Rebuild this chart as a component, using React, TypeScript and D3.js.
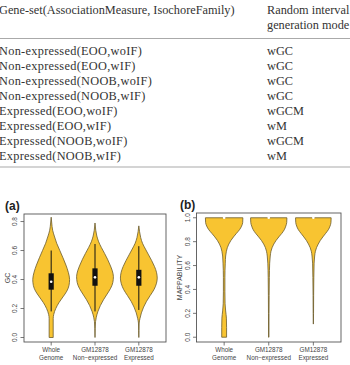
import React from "react";
import * as d3 from "d3";

// ---------- table data ----------
const tableHeaderLeft = "Gene-set(AssociationMeasure, IsochoreFamily)";
const tableHeaderRight = ["Random interval", "generation mode"];
const geneSets = [
  "Non-expressed(EOO,woIF)",
  "Non-expressed(EOO,wIF)",
  "Non-expressed(NOOB,woIF)",
  "Non-expressed(NOOB,wIF)",
  "Expressed(EOO,woIF)",
  "Expressed(EOO,wIF)",
  "Expressed(NOOB,woIF)",
  "Expressed(NOOB,wIF)",
];
const generationModes = ["wGC", "wGC", "wGC", "wGC", "wGCM", "wM", "wGCM", "wM"];

// ---------- chart data ----------
const xLabelTop = ["Whole", "GM12878", "GM12878"];
const xLabelBottom = ["Genome", "Non\u2212expressed", "Expressed"];
const gcTicks = [0, 0.2, 0.4, 0.6, 0.8];
const mapTicks = [0, 0.2, 0.4, 0.6, 0.8, 1.0];

// violin profiles: [value, relative density]
const gcWhole: [number, number][] = [
  [0.83, 0], [0.79, 0.03], [0.74, 0.08], [0.70, 0.17], [0.65, 0.30], [0.60, 0.47],
  [0.55, 0.64], [0.50, 0.80], [0.45, 0.93], [0.40, 1.0], [0.36, 0.97], [0.32, 0.85],
  [0.28, 0.64], [0.24, 0.42], [0.20, 0.25], [0.16, 0.14], [0.13, 0.11], [0.10, 0.11], [0.0, 0.11],
];
const gcNonExpressed: [number, number][] = [
  [0.79, 0], [0.74, 0.04], [0.70, 0.10], [0.66, 0.20], [0.62, 0.35], [0.58, 0.52],
  [0.54, 0.68], [0.50, 0.82], [0.46, 0.94], [0.42, 1.0], [0.38, 0.97], [0.34, 0.85],
  [0.30, 0.66], [0.26, 0.46], [0.22, 0.29], [0.18, 0.16], [0.14, 0.07], [0.11, 0.03],
  [0.06, 0.01], [0.0, 0],
];
const gcExpressed: [number, number][] = [
  [0.77, 0], [0.73, 0.04], [0.69, 0.10], [0.65, 0.20], [0.61, 0.36], [0.57, 0.53],
  [0.53, 0.70], [0.49, 0.85], [0.45, 0.96], [0.41, 1.0], [0.37, 0.95], [0.33, 0.82],
  [0.29, 0.62], [0.25, 0.42], [0.21, 0.26], [0.17, 0.14], [0.13, 0.06], [0.10, 0.02],
  [0.05, 0.01], [0.0, 0],
];
const gcLower = [0.18, 0.18, 0.19];
const gcQ1 = [0.33, 0.357, 0.357];
const gcMedian = [0.385, 0.415, 0.415];
const gcQ3 = [0.443, 0.477, 0.467];
const gcUpper = [0.6, 0.645, 0.63];

const mapWhole: [number, number][] = [
  [1.0, 1.0], [0.96, 0.99], [0.93, 0.93], [0.90, 0.82], [0.87, 0.66], [0.84, 0.50],
  [0.81, 0.36], [0.78, 0.25], [0.75, 0.17], [0.72, 0.12], [0.68, 0.08], [0.62, 0.06],
  [0.50, 0.04], [0.38, 0.04], [0.28, 0.05], [0.22, 0.08], [0.16, 0.12], [0.08, 0.13], [0.0, 0.13],
];
const mapNonExpressed: [number, number][] = [
  [1.0, 0.97], [0.96, 0.96], [0.93, 0.91], [0.90, 0.83], [0.87, 0.70], [0.84, 0.54],
  [0.81, 0.39], [0.78, 0.27], [0.75, 0.18], [0.72, 0.12], [0.68, 0.08], [0.62, 0.05],
  [0.50, 0.03], [0.35, 0.02], [0.20, 0.015], [0.0, 0.01],
];
const mapExpressed: [number, number][] = [
  [1.0, 0.95], [0.96, 0.94], [0.93, 0.89], [0.90, 0.80], [0.87, 0.66], [0.84, 0.51],
  [0.81, 0.37], [0.78, 0.26], [0.75, 0.17], [0.72, 0.11], [0.68, 0.07], [0.62, 0.04],
  [0.50, 0.025], [0.35, 0.015], [0.20, 0.01], [0.11, 0],
];
const mapMedian = [1.0, 1.0, 1.0];

const FILL = "#F8C431";
const EDGE = "#6a5a2c";
const HALF_WIDTH = 0.42;

type PanelProps = {
  left: number; right: number; top: number; bottom: number;
  yDomain: [number, number];
  ticks: number[];
  profiles: [number, number][][];
  q1?: number[]; med: number[]; q3?: number[]; lower?: number[]; upper?: number[];
  yLabel: string; title: string;
  yLabelX: number; tickLabelX: number; titleX: number;
};

function Panel(p: PanelProps) {
  const x = d3.scaleLinear().domain([0.38, 3.62]).range([p.left, p.right]);
  const y = d3.scaleLinear().domain(p.yDomain).range([p.bottom, p.top]);
  const fmt = d3.format(".1f");
  return (
    <g>
      {p.profiles.map((prof, i) => {
        const c = i + 1;
        const area = d3
          .area<[number, number]>()
          .y((d) => y(d[0]))
          .x0((d) => x(c - d[1] * HALF_WIDTH))
          .x1((d) => x(c + d[1] * HALF_WIDTH))
          .curve(d3.curveMonotoneY);
        return <path key={"v" + i} d={area(prof) || ""} fill={FILL} stroke={EDGE} strokeWidth={0.8} />;
      })}
      {p.med.map((m, i) => {
        const cx = x(i + 1);
        return (
          <g key={"b" + i}>
            {p.lower && p.upper && (
              <line x1={cx} x2={cx} y1={y(p.lower[i])} y2={y(p.upper[i])} stroke="#111" strokeWidth={1} />
            )}
            {p.q1 && p.q3 && (
              <rect x={cx - 2.6} width={5.2} y={y(p.q3[i])} height={y(p.q1[i]) - y(p.q3[i])} fill="#111" />
            )}
            <circle cx={cx} cy={y(m)} r={1.3} fill="#fff" />
          </g>
        );
      })}
      <rect x={p.left} y={p.top} width={p.right - p.left} height={p.bottom - p.top} fill="none" stroke="#555" strokeWidth={0.9} />
      {p.ticks.map((t) => (
        <g key={"t" + t}>
          <line x1={p.left - 3.5} x2={p.left} y1={y(t)} y2={y(t)} stroke="#555" strokeWidth={0.8} />
          <text
            transform={`translate(${p.tickLabelX},${y(t)}) rotate(-90)`}
            textAnchor="middle"
            fontSize={6.5}
            fill="#444"
            fontFamily="Liberation Sans, Arial, sans-serif"
          >
            {fmt(t)}
          </text>
        </g>
      ))}
      {xLabelTop.map((lab, i) => (
        <g key={"x" + i}>
          <line x1={x(i + 1)} x2={x(i + 1)} y1={p.bottom} y2={p.bottom + 3.5} stroke="#555" strokeWidth={0.8} />
          <text x={x(i + 1)} y={p.bottom + 9.5} textAnchor="middle" fontSize={6.3} fill="#444" fontFamily="Liberation Sans, Arial, sans-serif">
            {lab}
          </text>
          <text x={x(i + 1)} y={p.bottom + 17.5} textAnchor="middle" fontSize={6.3} fill="#444" fontFamily="Liberation Sans, Arial, sans-serif">
            {xLabelBottom[i]}
          </text>
        </g>
      ))}
      <text
        transform={`translate(${p.yLabelX},${(p.top + p.bottom) / 2}) rotate(-90)`}
        textAnchor="middle"
        fontSize={7}
        fill="#444"
        fontFamily="Liberation Sans, Arial, sans-serif"
      >
        {p.yLabel}
      </text>
      <text x={p.titleX} y={p.top - 4.5} fontSize={12} fontWeight="bold" fill="#222" fontFamily="Liberation Sans, Arial, sans-serif">
        {p.title}
      </text>
    </g>
  );
}

export default function App() {
  const serif = "Liberation Serif, 'DejaVu Serif', serif";
  const rowY = d3.scaleLinear().domain([0, 1]).range([55, 70]);
  return (
    <svg width={350} height={365} style={{ position: "absolute", left: 0, top: 0, background: "#fff" }}>
      <rect width={350} height={365} fill="#fff" />
      <text x={-1} y={14} fontSize={12.3} fill="#333" fontFamily={serif}>{tableHeaderLeft}</text>
      <text x={267} y={14} fontSize={12.3} fill="#333" fontFamily={serif}>{tableHeaderRight[0]}</text>
      <text x={267} y={28.5} fontSize={12.3} fill="#333" fontFamily={serif}>{tableHeaderRight[1]}</text>
      <line x1={0} x2={350} y1={38.5} y2={38.5} stroke="#aaa" strokeWidth={1.2} />
      {geneSets.map((g, i) => (
        <g key={g}>
          <text x={-1} y={rowY(i)} fontSize={12.3} letterSpacing={0.3} fill="#333" fontFamily={serif}>{g}</text>
          <text x={267} y={rowY(i)} fontSize={12.3} fill="#333" fontFamily={serif}>{generationModes[i]}</text>
        </g>
      ))}
      <line x1={0} x2={350} y1={167} y2={167} stroke="#aaa" strokeWidth={1.2} />
      <Panel
        left={24} right={166} top={214} bottom={342}
        yDomain={[-0.031, 0.852]}
        ticks={gcTicks}
        profiles={[gcWhole, gcNonExpressed, gcExpressed]}
        q1={gcQ1} med={gcMedian} q3={gcQ3} lower={gcLower} upper={gcUpper}
        yLabel="GC" title="(a)"
        yLabelX={9.5} tickLabelX={17} titleX={5}
      />
      <Panel
        left={196.5} right={341} top={213} bottom={342}
        yDomain={[-0.04, 1.04]}
        ticks={mapTicks}
        profiles={[mapWhole, mapNonExpressed, mapExpressed]}
        med={mapMedian}
        yLabel="MAPPABILITY" title="(b)"
        yLabelX={182} tickLabelX={190} titleX={180}
      />
    </svg>
  );
}
